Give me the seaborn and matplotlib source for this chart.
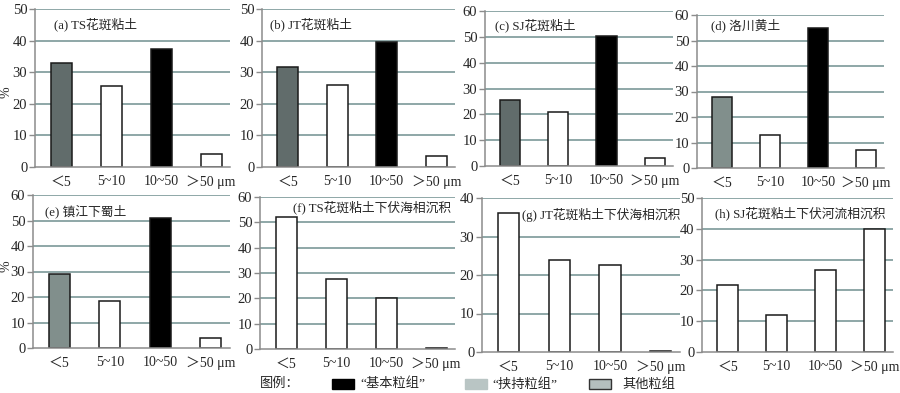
"""
Grain-size fraction bar charts for eight soil / sediment samples (2 x 4 panels).
"""
import matplotlib
matplotlib.use("Agg")
import matplotlib.pyplot as plt
import matplotlib.patches as mpatches
import seaborn as sns

# ── Data ──────────────────────────────────────────────────────────────────────
CATEGORIES = ["＜5", "5~10", "10~50", "＞50 μm"]

TITLES = [
    "(a) TS花斑粘土", "(b) JT花斑粘土", "(c) SJ花斑粘土", "(d) 洛川黄土",
    "(e) 镇江下蜀土", "(f) TS花斑粘土下伏海相沉积",
    "(g) JT花斑粘土下伏海相沉积", "(h) SJ花斑粘土下伏河流相沉积",
]

VAL_A = [33.0, 25.5, 37.5, 4.2]
VAL_B = [31.5, 26.0, 39.5, 3.5]
VAL_C = [25.5, 21.0, 50.2, 3.2]
VAL_D = [28.0, 12.8, 55.0, 7.0]
VAL_E = [29.0, 18.5, 50.8, 4.0]
VAL_F = [52.0, 27.5, 20.3, 0.5]
VAL_G = [36.2, 23.8, 22.5, 0.2]
VAL_H = [21.8, 12.0, 26.6, 40.0]
VALUES = [VAL_A, VAL_B, VAL_C, VAL_D, VAL_E, VAL_F, VAL_G, VAL_H]

YMAX = [50, 50, 60, 60, 60, 60, 40, 50]

LEGEND_LABELS = ["“基本粒组”", "“挟持粒组”", "其他粒组"]

# ── Styles ────────────────────────────────────────────────────────────────────
DARK = "#5f6e6d"
MID = "#7f918d"
BLACK = "#000000"
WHITE = "#ffffff"
FILLS = [
    [DARK, WHITE, BLACK, WHITE],
    [DARK, WHITE, BLACK, WHITE],
    [DARK, WHITE, BLACK, WHITE],
    [MID, WHITE, BLACK, WHITE],
    [MID, WHITE, BLACK, WHITE],
    [WHITE] * 4,
    [WHITE] * 4,
    [WHITE] * 4,
]
GRID = "#86a0a0"
SPINE = "#8c8c8c"
FONT = ["Liberation Serif", "Noto Sans CJK SC"]

# axes boxes in pixel coords: (left, top, right, bottom)
BOXES = [
    (35, 9, 230, 167), (262, 9, 455, 167), (485, 11, 673, 166), (697, 15, 884, 168),
    (33, 195, 230, 348), (260, 197, 455, 349), (482, 198, 680, 352), (702, 198, 893, 352),
]
# title anchor (x, y) in axes fraction, left aligned
TITLE_POS = [
    (0.10, 0.90), (0.04, 0.90), (0.053, 0.91), (0.075, 0.935),
    (0.06, 0.89), (0.17, 0.93), (0.20, 0.89), (0.068, 0.90),
]

W, H = 900, 393

sns.set_theme(style="white")
plt.rcParams["font.family"] = FONT
plt.rcParams["axes.unicode_minus"] = False

fig = plt.figure(figsize=(W / 100, H / 100), dpi=100)
fig.patch.set_facecolor("white")


def px_box(b):
    l, t, r, btm = b
    return [l / W, 1 - btm / H, (r - l) / W, (btm - t) / H]


for i, (vals, box) in enumerate(zip(VALUES, BOXES)):
    ax = fig.add_axes(px_box(box))
    ax.set_facecolor("white")
    for y in range(10, YMAX[i] + 1, 10):
        ax.axhline(y, color=GRID, lw=1.3, zorder=0)
    sns.barplot(
        x=CATEGORIES, y=vals, hue=CATEGORIES, palette=FILLS[i],
        order=CATEGORIES, hue_order=CATEGORIES,
        edgecolor="#1a1a1a", linewidth=1.1, width=0.42,
        legend=False, ax=ax, zorder=2,
    )
    ax.set_xlim(-0.52, 3.38)
    ax.set_ylim(0, YMAX[i])
    ax.set_yticks(range(0, YMAX[i] + 1, 10))
    ax.tick_params(axis="y", left=True, length=4, width=1, color=SPINE,
                   labelsize=10.5, pad=1.5)
    ax.tick_params(axis="x", bottom=False, labelsize=10, pad=0)
    for lab in ax.get_xticklabels() + ax.get_yticklabels():
        lab.set_family(FONT)
    for s in ["top", "right"]:
        ax.spines[s].set_visible(False)
    for s in ["left", "bottom"]:
        ax.spines[s].set_color(SPINE)
        ax.spines[s].set_linewidth(1.1)
    ax.set_xlabel("")
    ax.set_ylabel("")
    tx, ty = TITLE_POS[i]
    ax.text(tx, ty, TITLES[i], transform=ax.transAxes, ha="left", va="center",
            fontsize=9.2, family=FONT, zorder=5)

# "%" y labels for the left column
for yc in (92, 266):
    fig.text(6 / W, 1 - yc / H, "%", rotation=90, ha="center", va="center",
             fontsize=10, family=FONT)

# ── Legend strip ──────────────────────────────────────────────────────────────
ly = 384
fig.text(260 / W, 1 - ly / H, "图例：", ha="left", va="center", fontsize=9.5, family=FONT)
legend_patches = [
    (332, BLACK, BLACK),
    (465, "#b9c5c4", "#b9c5c4"),
    (589, "#b4bfbe", "#333333"),
]
text_x = [360, 492, 622]
for (px, fc, ec), tx, lab in zip(legend_patches, text_x, LEGEND_LABELS):
    fig.patches.append(mpatches.Rectangle(
        (px / W, 1 - (ly + 5) / H), 22 / W, 10 / H,
        transform=fig.transFigure, facecolor=fc, edgecolor=ec, lw=1))
    fig.text(tx / W, 1 - ly / H, lab, ha="left", va="center", fontsize=9.5, family=FONT)

fig.savefig("out.png", dpi=100, facecolor="white")
